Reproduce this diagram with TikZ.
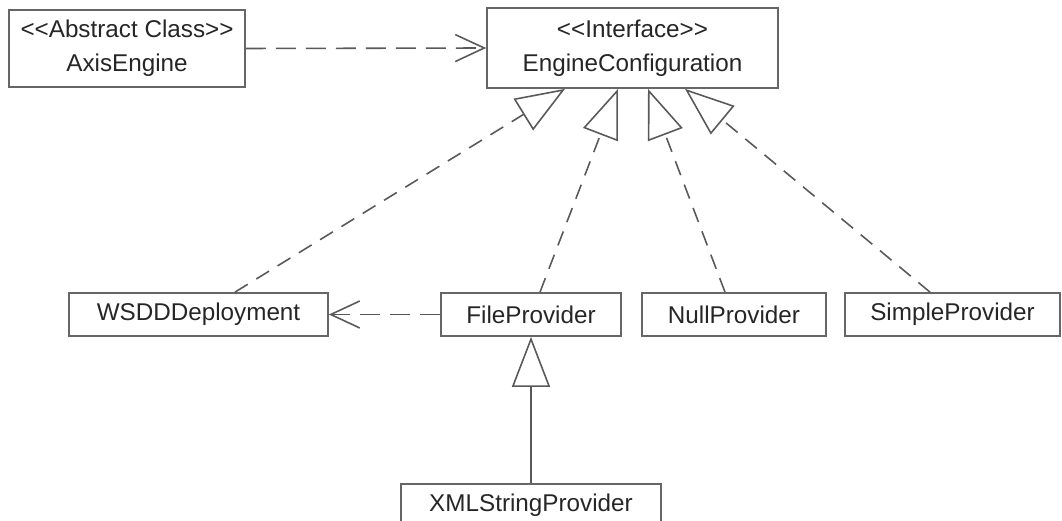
\documentclass[tikz,border=0pt]{standalone}
\usepackage{fontspec}
\setmainfont{Liberation Sans}[Ligatures=TeXOff]
\usetikzlibrary{arrows.meta}

\begin{document}
\begin{tikzpicture}[
    umlclass/.style={draw=black!60, line width=1pt, inner sep=0pt, minimum height=0.86cm, align=center, text=black!85, font=\fontsize{13.8}{19.5}\selectfont},
    realize/.style={draw=black!65, line width=0.9pt, dash pattern=on 0.3cm off 0.2cm, -{Triangle[open, length=0.98cm, width=0.74cm]}},
    depend/.style={draw=black!65, line width=0.9pt, dash pattern=on 0.4cm off 0.2cm, -{Straight Barb[length=0.58cm, width=0.54cm]}},
    inherit/.style={draw=black!65, line width=0.9pt, -{Triangle[open, length=1cm, width=0.76cm]}}
  ]
  \clip (0,0) rectangle (21.24,10.42);

  % Top row
  \node[umlclass, minimum width=4.72cm, minimum height=1.54cm] (axis) at (2.54,9.45) {<\kern0pt<Abstract Class>\kern0pt>\\AxisEngine};
  \node[umlclass, minimum width=5.82cm, minimum height=1.6cm] (engine) at (12.65,9.46) {<\kern0pt<Interface>\kern0pt>\\EngineConfiguration};

  % Providers
  \node[umlclass, minimum width=5.18cm] (wsdd) at (3.97,4.13) {WSDDDeployment};
  \node[umlclass, minimum width=3.6cm] (file) at (10.62,4.13) {FileProvider};
  \node[umlclass, minimum width=3.68cm] (null) at (14.68,4.13) {NullProvider};
  \node[umlclass, minimum width=4.3cm] (simple) at (19.05,4.13) {SimpleProvider};
  \node[umlclass, minimum width=5.2cm] (xml) at (10.62,0.31) {XMLStringProvider};

  % Dependencies
  \draw[depend] (axis.east) -- (engine.west);
  \draw[depend] (file.west) -- (wsdd.east);

  % Realizations
  \draw[realize] ([xshift=0.73cm]wsdd.north) -- ([xshift=-1.35cm]engine.south);
  \draw[realize] ([xshift=0.18cm]file.north) -- ([xshift=-0.29cm]engine.south);
  \draw[realize] ([xshift=-0.18cm]null.north) -- ([xshift=0.31cm]engine.south);
  \draw[realize] ([xshift=-0.45cm]simple.north) -- ([xshift=1.05cm]engine.south);

  % Inheritance
  \draw[inherit] (xml.north) -- (file.south);
\end{tikzpicture}
\end{document}
